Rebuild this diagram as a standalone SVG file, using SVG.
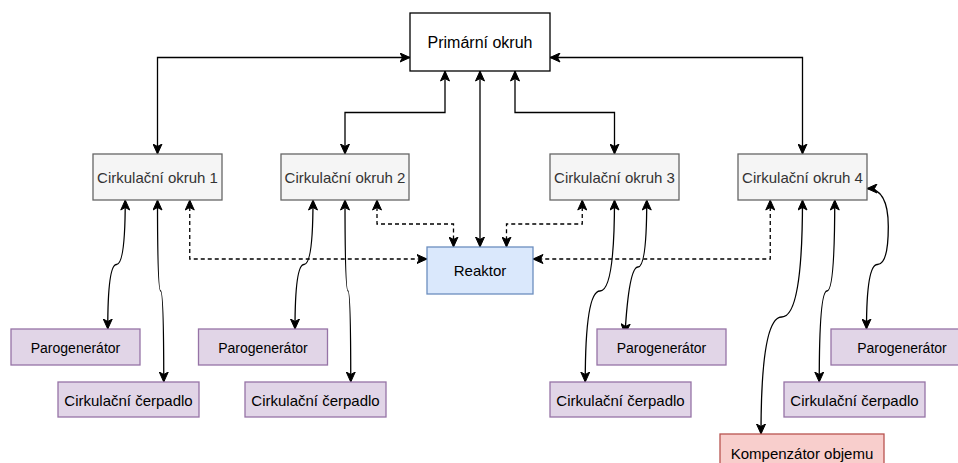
<svg xmlns="http://www.w3.org/2000/svg" width="958" height="463" viewBox="0 0 958 463">
<defs>
<marker id="arr" markerUnits="userSpaceOnUse" markerWidth="11" markerHeight="10" viewBox="0 0 11 10" refX="10.5" refY="5" orient="auto-start-reverse">
<path d="M0.5,0.5 L10.5,5 L0.5,9.5 L3,5 Z" fill="#000" stroke="#000" stroke-width="1"/>
</marker>
<style>
.c{fill:none;stroke:#000;stroke-width:1.3;marker-start:url(#arr);marker-end:url(#arr)}
.d{stroke-dasharray:4 3}
.t{font-family:"Liberation Sans",Arial,Helvetica,sans-serif;text-anchor:middle}
.prim rect{fill:#fff;stroke:#000;stroke-width:1.3}
.circ rect{fill:#f5f5f5;stroke:#666;stroke-width:1.3}
.circ text{fill:#333;font-size:15px}
.reak rect{fill:#dae8fc;stroke:#6c8ebf;stroke-width:1.3}
.purp rect{fill:#e1d5e7;stroke:#9673a6;stroke-width:1.3}
.komp rect{fill:#f8cecc;stroke:#b85450;stroke-width:1.3}
</style>
</defs>
<g id="connectors">
<path class="c" d="M410,57.5 H157.5 V154"/>
<path class="c" d="M445,71 V112.5 H345 V154"/>
<path class="c" d="M480,71 V247"/>
<path class="c" d="M515,71 V112.5 H614.5 V154"/>
<path class="c" d="M550,57.5 H802.5 V154"/>
<path class="c d" d="M189.75,200 V259 H427"/>
<path class="c d" d="M377,200 V224 H453.5 V247"/>
<path class="c d" d="M582.25,200 V224 H506.5 V247"/>
<path class="c d" d="M770.25,200 V259 H533"/>
<path class="c" d="M125.25,200 Q125.25,264.5 116.5,264.5 Q107.75,264.5 107.75,329"/>
<path class="c" d="M157.5,200 Q157.5,291 160.6,291 Q163.75,291 163.75,382"/>
<path class="c" d="M313,200 Q313,264.5 304,264.5 Q295,264.5 295,329"/>
<path class="c" d="M345,200 Q345,291 348,291 Q350.75,291 350.75,382"/>
<path class="c" d="M614.5,200 Q614.5,291 600,291 Q585.25,291 585.25,382"/>
<path class="c" d="M646.75,200 Q646.75,267 638,267 Q629,267 625,334"/>
<path class="c" d="M802.5,200 Q802.5,317 781.75,317 Q761,317 761,434"/>
<path class="c" d="M834.75,200 Q834.75,291 827,291 Q819.25,291 819.25,382"/>
<path class="c" d="M867,188.5 Q888.3,188.5 888.3,226.5 Q888.3,264.5 877.4,264.5 Q866.5,264.5 866.5,329"/>
</g>
<g id="primarni" class="prim"><rect x="410" y="13" width="140" height="58"/><text class="t" x="480" y="47.5" font-size="16">Primární okruh</text></g>
<g id="okruh1" class="circ"><rect x="93" y="154" width="129" height="46"/><text class="t" x="157.5" y="182.5">Cirkulační okruh 1</text></g>
<g id="okruh2" class="circ"><rect x="281" y="154" width="128" height="46"/><text class="t" x="345" y="182.5">Cirkulační okruh 2</text></g>
<g id="okruh3" class="circ"><rect x="550" y="154" width="129" height="46"/><text class="t" x="614.5" y="182.5">Cirkulační okruh 3</text></g>
<g id="okruh4" class="circ"><rect x="738" y="154" width="129" height="46"/><text class="t" x="802.5" y="182.5">Cirkulační okruh 4</text></g>
<g id="reaktor" class="reak"><rect x="427" y="247" width="106" height="47"/><text class="t" x="480" y="276" font-size="15">Reaktor</text></g>
<g id="parogen1" class="purp"><rect x="11" y="329" width="129" height="36"/><text class="t" x="75.5" y="352.5" font-size="14">Parogenerátor</text></g>
<g id="cerpadlo1" class="purp"><rect x="58" y="382" width="141" height="35"/><text class="t" x="128.5" y="405.5" font-size="15">Cirkulační čerpadlo</text></g>
<g id="parogen2" class="purp"><rect x="198.5" y="329" width="129" height="36"/><text class="t" x="263" y="352.5" font-size="14">Parogenerátor</text></g>
<g id="cerpadlo2" class="purp"><rect x="245" y="382" width="141" height="35"/><text class="t" x="315.5" y="405.5" font-size="15">Cirkulační čerpadlo</text></g>
<g id="cerpadlo3" class="purp"><rect x="550" y="382" width="141" height="35"/><text class="t" x="620.5" y="405.5" font-size="15">Cirkulační čerpadlo</text></g>
<g id="parogen3" class="purp"><rect x="597" y="329" width="129" height="36"/><text class="t" x="661.5" y="352.5" font-size="14">Parogenerátor</text></g>
<g id="cerpadlo4" class="purp"><rect x="784" y="382" width="141" height="35"/><text class="t" x="854.5" y="405.5" font-size="15">Cirkulační čerpadlo</text></g>
<g id="parogen4" class="purp"><rect x="831" y="329" width="142" height="36"/><text class="t" x="902" y="352.5" font-size="14">Parogenerátor</text></g>
<g id="kompenzator" class="komp"><rect x="720" y="434" width="164" height="38"/><text class="t" x="802" y="459" font-size="15">Kompenzátor objemu</text></g>
</svg>
